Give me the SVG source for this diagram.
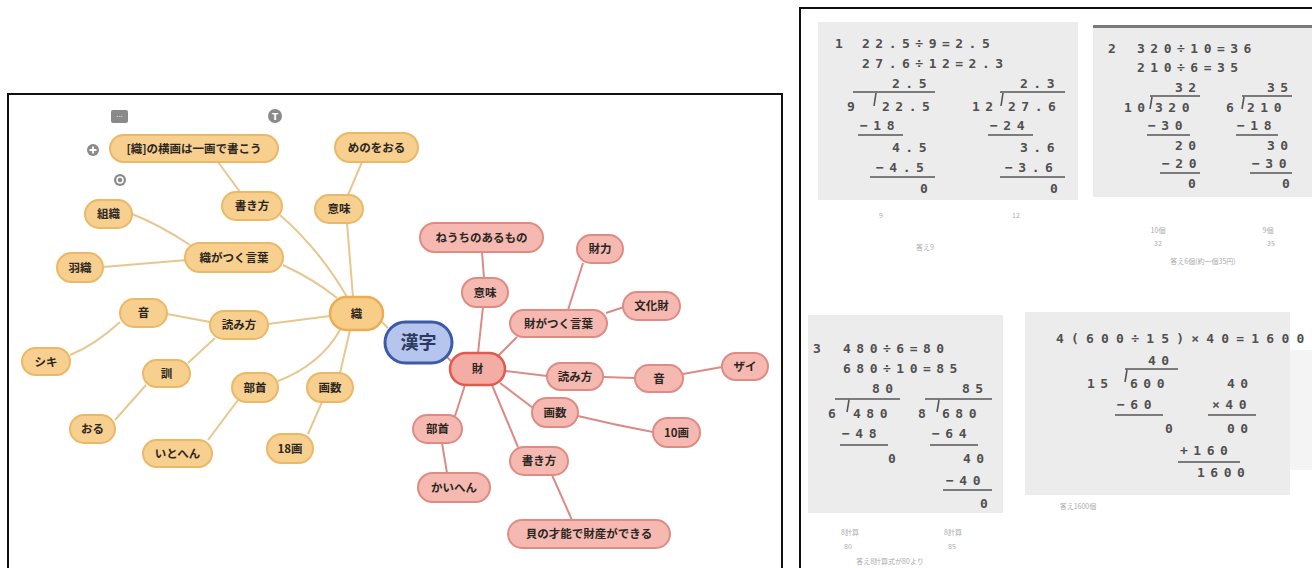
<svg xmlns="http://www.w3.org/2000/svg" width="1312" height="568" viewBox="0 0 1312 568">
<style>
.o rect{fill:#f7cf8e;stroke:#eab867;stroke-width:2}
.r rect{fill:#f5b9b1;stroke:#de8b83;stroke-width:2}
.hubo rect{fill:#f7cd88;stroke:#e9ad55;stroke-width:2.5}
.hubr rect{fill:#f3ada5;stroke:#e05a50;stroke-width:2.5}
.o text,.r text,.hubo text,.hubr text{font-family:"Noto Sans CJK JP","Noto Sans",sans-serif;font-weight:bold;font-size:11.5px;fill:#2c2622;text-anchor:middle}
.co{fill:none;stroke:#e7c78f;stroke-width:2}
.cr{fill:none;stroke:#db8b86;stroke-width:2}
.frame{fill:none;stroke:#111;stroke-width:2}
.panel{fill:#ececec}
.m{font-family:"DejaVu Sans Mono",monospace;font-weight:bold;font-size:13px;fill:#505050;letter-spacing:5.5px}
.ml{stroke:#555;stroke-width:1.6;fill:none}
.f{font-family:"Noto Sans CJK JP",sans-serif;font-size:7px;fill:#aaa;text-anchor:middle}
.ic{fill:#8a8a8a}
</style>
<rect width="1312" height="568" fill="#ffffff"/>

<!-- frames -->
<rect class="frame" x="8" y="94" width="774" height="490"/>
<rect class="frame" x="800" y="8" width="530" height="580"/>

<!-- toolbar icons -->
<g id="icons">
<rect class="ic" x="111" y="110" width="17" height="13" rx="2"/>
<text x="119.5" y="119" font-family="DejaVu Sans" font-size="7" fill="#fff" text-anchor="middle">···</text>
<circle class="ic" cx="275" cy="116" r="7"/>
<text x="275" y="119.5" font-family="DejaVu Sans" font-weight="bold" font-size="9" fill="#fff" text-anchor="middle">T</text>
<circle class="ic" cx="93" cy="150" r="6"/>
<path d="M89.5,150 h7 M93,146.5 v7" stroke="#fff" stroke-width="1.8"/>
<circle class="ic" cx="120" cy="180" r="6"/>
<circle cx="120" cy="180" r="3" fill="none" stroke="#fff" stroke-width="1.5"/>
</g>

<!-- connectors -->
<g id="connectors">
<path class="co" d="M240,192 L218,162"/>
<path class="co" d="M348,195 L362,162"/>
<path class="co" d="M132,214 Q160,225 190,245"/>
<path class="co" d="M103,267 L187,260"/>
<path class="co" d="M280,215 Q320,250 347,297"/>
<path class="co" d="M347,223 L353,297"/>
<path class="co" d="M283,265 Q315,280 337,298"/>
<path class="co" d="M167,314 L210,322"/>
<path class="co" d="M70,355 Q95,345 120,322"/>
<path class="co" d="M268,324 L330,316"/>
<path class="co" d="M188,363 L215,338"/>
<path class="co" d="M115,420 L146,385"/>
<path class="co" d="M278,381 Q320,365 340,330"/>
<path class="co" d="M340,373 L350,330"/>
<path class="co" d="M208,440 L238,400"/>
<path class="co" d="M308,434 L322,402"/>
<path class="co" d="M382,322 L388,328"/>
<path class="cr" d="M482,252 L484,278"/>
<path class="cr" d="M583,263 L568,310"/>
<path class="cr" d="M624,307 L606,313"/>
<path class="cr" d="M483,307 L478,353"/>
<path class="cr" d="M517,337 L498,356"/>
<path class="cr" d="M505,371 L547,376"/>
<path class="cr" d="M603,377 L635,378"/>
<path class="cr" d="M683,374 L722,367"/>
<path class="cr" d="M500,383 L533,408"/>
<path class="cr" d="M578,416 Q615,425 653,432"/>
<path class="cr" d="M465,385 L455,416"/>
<path class="cr" d="M442,443 L447,473"/>
<path class="cr" d="M492,385 L518,447"/>
<path class="cr" d="M552,475 L572,520"/>
<path class="cr" d="M447,357 L452,362"/>
</g>

<!-- orange nodes -->
<g id="n-yokokaku" class="o"><rect x="110" y="135" width="168" height="27" rx="13.5"/><text x="194" y="152.5">[織]の横画は一画で書こう</text></g>
<g id="n-menoworu" class="o"><rect x="335" y="133" width="83" height="29" rx="14.5"/><text x="376.5" y="151.5">めのをおる</text></g>
<g id="n-kakikata-o" class="o"><rect x="222" y="192" width="60" height="28" rx="14"/><text x="252" y="210">書き方</text></g>
<g id="n-imi-o" class="o"><rect x="315" y="195" width="48" height="28" rx="14"/><text x="339" y="213">意味</text></g>
<g id="n-soshiki" class="o"><rect x="85" y="200" width="47" height="28" rx="14"/><text x="108.5" y="218">組織</text></g>
<g id="n-shokugatsuku" class="o"><rect x="185" y="243" width="98" height="29" rx="14.5"/><text x="234" y="261.5">織がつく言葉</text></g>
<g id="n-haori" class="o"><rect x="57" y="253" width="46" height="29" rx="14.5"/><text x="80" y="271.5">羽織</text></g>
<g id="n-on-o" class="o"><rect x="120" y="299" width="47" height="28" rx="14"/><text x="143.5" y="317">音</text></g>
<g id="n-yomikata-o" class="o"><rect x="210" y="311" width="58" height="28" rx="14"/><text x="239" y="329">読み方</text></g>
<g id="n-shiki" class="o"><rect x="22" y="348" width="48" height="27" rx="13.5"/><text x="46" y="365.5">シキ</text></g>
<g id="n-kun" class="o"><rect x="143" y="360" width="47" height="27" rx="13.5"/><text x="166.5" y="377.5">訓</text></g>
<g id="n-bushu-o" class="o"><rect x="232" y="373" width="46" height="29" rx="14.5"/><text x="255" y="391.5">部首</text></g>
<g id="n-kakusu-o" class="o"><rect x="307" y="373" width="46" height="29" rx="14.5"/><text x="330" y="391.5">画数</text></g>
<g id="n-oru" class="o"><rect x="70" y="415" width="45" height="28" rx="14"/><text x="92.5" y="433">おる</text></g>
<g id="n-itohen" class="o"><rect x="143" y="440" width="69" height="27" rx="13.5"/><text x="177.5" y="457.5">いとへん</text></g>
<g id="n-18kaku" class="o"><rect x="267" y="434" width="46" height="29" rx="14.5"/><text x="290" y="452.5">18画</text></g>
<g id="n-shoku" class="hubo"><rect x="330" y="297" width="53" height="33" rx="16.5"/><text x="356.5" y="317.5">織</text></g>

<!-- center -->
<g id="n-kanji"><rect x="385" y="322" width="67" height="41" rx="20.5" fill="#b5c5ee" stroke="#3d5aa8" stroke-width="3"/><text x="418.5" y="349" font-family="Noto Sans CJK JP,sans-serif" font-weight="bold" font-size="18" fill="#2d3a60" text-anchor="middle">漢字</text></g>

<!-- red nodes -->
<g id="n-neuchi" class="r"><rect x="420" y="223" width="123" height="29" rx="14.5"/><text x="481.5" y="241.5">ねうちのあるもの</text></g>
<g id="n-zairyoku" class="r"><rect x="577" y="235" width="46" height="28" rx="14"/><text x="600" y="253">財力</text></g>
<g id="n-imi-r" class="r"><rect x="462" y="278" width="46" height="29" rx="14.5"/><text x="485" y="296.5">意味</text></g>
<g id="n-bunkazai" class="r"><rect x="623" y="292" width="57" height="28" rx="14"/><text x="651.5" y="310">文化財</text></g>
<g id="n-zaigatsuku" class="r"><rect x="510" y="310" width="97" height="27" rx="13.5"/><text x="558.5" y="327.5">財がつく言葉</text></g>
<g id="n-yomikata-r" class="r"><rect x="547" y="363" width="56" height="27" rx="13.5"/><text x="575" y="380.5">読み方</text></g>
<g id="n-on-r" class="r"><rect x="635" y="365" width="48" height="27" rx="13.5"/><text x="659" y="382.5">音</text></g>
<g id="n-zai-yomi" class="r"><rect x="722" y="353" width="46" height="27" rx="13.5"/><text x="745" y="370.5">ザイ</text></g>
<g id="n-kakusu-r" class="r"><rect x="532" y="398" width="46" height="29" rx="14.5"/><text x="555" y="416.5">画数</text></g>
<g id="n-10kaku" class="r"><rect x="653" y="418" width="47" height="29" rx="14.5"/><text x="676.5" y="436.5">10画</text></g>
<g id="n-bushu-r" class="r"><rect x="413" y="415" width="49" height="28" rx="14"/><text x="437.5" y="433">部首</text></g>
<g id="n-kaihen" class="r"><rect x="418" y="473" width="72" height="29" rx="14.5"/><text x="454" y="491.5">かいへん</text></g>
<g id="n-kakikata-r" class="r"><rect x="510" y="447" width="58" height="28" rx="14"/><text x="539" y="465">書き方</text></g>
<g id="n-kai" class="r"><rect x="508" y="520" width="162" height="28" rx="14"/><text x="589" y="538">貝の才能で財産ができる</text></g>
<g id="n-zai" class="hubr"><rect x="450" y="353" width="55" height="32" rx="16"/><text x="477.5" y="373">財</text></g>

<!-- worksheet panels -->
<g id="panel1">
<rect class="panel" x="818" y="22" width="260" height="178"/>
<text class="m" x="835" y="48">1</text>
<text class="m" x="862" y="48">22.5÷9=2.5</text>
<text class="m" x="862" y="68">27.6÷12=2.3</text>
<text class="m" x="892" y="88">2.5</text>
<text class="m" x="1020" y="88">2.3</text>
<path class="ml" d="M853,92 H935 M876,93 L874,106 M1000,92 H1065 M1003,93 L1001,106"/>
<text class="m" x="847" y="111">9</text>
<text class="m" x="882" y="111">22.5</text>
<text class="m" x="972" y="111">12</text>
<text class="m" x="1008" y="111">27.6</text>
<text class="m" x="860" y="130">−18</text>
<text class="m" x="990" y="130">−24</text>
<path class="ml" d="M858,135 H903 M988,135 H1033"/>
<text class="m" x="892" y="152">4.5</text>
<text class="m" x="1020" y="152">3.6</text>
<text class="m" x="876" y="172">−4.5</text>
<text class="m" x="1005" y="172">−3.6</text>
<path class="ml" d="M870,177 H935 M1000,177 H1065"/>
<text class="m" x="920" y="193">0</text>
<text class="m" x="1050" y="193">0</text>
<text class="f" x="881" y="218">9</text>
<text class="f" x="1016" y="218">12</text>
<text class="f" x="925" y="250">答え9</text>
</g>

<g id="panel2">
<rect class="panel" x="1093" y="25" width="219" height="172"/>
<rect x="1093" y="25" width="219" height="3" fill="#7a7a7a"/>
<text class="m" x="1108" y="53">2</text>
<text class="m" x="1137" y="53">320÷10=36</text>
<text class="m" x="1137" y="72">210÷6=35</text>
<text class="m" x="1175" y="92">32</text>
<text class="m" x="1267" y="92">35</text>
<path class="ml" d="M1150,96 H1200 M1152,97 L1150,109 M1242,96 H1292 M1244,97 L1242,109"/>
<text class="m" x="1124" y="112">10</text>
<text class="m" x="1155" y="112">320</text>
<text class="m" x="1226" y="112">6</text>
<text class="m" x="1247" y="112">210</text>
<text class="m" x="1148" y="130">−30</text>
<text class="m" x="1237" y="130">−18</text>
<path class="ml" d="M1147,135 H1190 M1236,135 H1278"/>
<text class="m" x="1175" y="150">20</text>
<text class="m" x="1267" y="150">30</text>
<text class="m" x="1162" y="168">−20</text>
<text class="m" x="1252" y="168">−30</text>
<path class="ml" d="M1160,173 H1200 M1250,173 H1292"/>
<text class="m" x="1188" y="188">0</text>
<text class="m" x="1282" y="188">0</text>
<text class="f" x="1158" y="233">10個</text>
<text class="f" x="1268" y="233">9個</text>
<text class="f" x="1158" y="246">32</text>
<text class="f" x="1271" y="246">35</text>
<text class="f" x="1203" y="264">答え6個(約一個35円)</text>
</g>

<g id="panel3">
<rect class="panel" x="808" y="315" width="195" height="198"/>
<text class="m" x="813" y="353">3</text>
<text class="m" x="843" y="353">480÷6=80</text>
<text class="m" x="843" y="373">680÷10=85</text>
<text class="m" x="872" y="393">80</text>
<text class="m" x="962" y="393">85</text>
<path class="ml" d="M835,399 H900 M849,400 L847,412 M925,399 H992 M939,400 L937,412"/>
<text class="m" x="828" y="418">6</text>
<text class="m" x="853" y="418">480</text>
<text class="m" x="918" y="418">8</text>
<text class="m" x="942" y="418">680</text>
<text class="m" x="842" y="438">−48</text>
<text class="m" x="932" y="438">−64</text>
<path class="ml" d="M840,445 H888 M930,445 H978"/>
<text class="m" x="888" y="463">0</text>
<text class="m" x="963" y="463">40</text>
<text class="m" x="946" y="485">−40</text>
<path class="ml" d="M943,490 H992"/>
<text class="m" x="980" y="508">0</text>
<text class="f" x="850" y="535">8計算</text>
<text class="f" x="953" y="535">8計算</text>
<text class="f" x="848" y="549">80</text>
<text class="f" x="952" y="549">85</text>
<text class="f" x="890" y="564">答え8計算式が80より</text>
</g>

<g id="panel4">
<rect class="panel" x="1025" y="312" width="265" height="183"/>
<rect x="1290" y="350" width="22" height="120" fill="#f4f4f4"/>
<text class="m" x="1056" y="343" style="letter-spacing:7.2px">4(600÷15)×40=1600</text>
<text class="m" x="1148" y="365">40</text>
<path class="ml" d="M1125,369 H1178 M1127,370 L1125,382"/>
<text class="m" x="1087" y="388">15</text>
<text class="m" x="1130" y="388">600</text>
<text class="m" x="1227" y="388">40</text>
<text class="m" x="1117" y="409">−60</text>
<text class="m" x="1212" y="409">×40</text>
<path class="ml" d="M1115,415 H1163 M1208,415 H1256"/>
<text class="m" x="1165" y="433">0</text>
<text class="m" x="1227" y="433">00</text>
<text class="m" x="1180" y="455">+160</text>
<path class="ml" d="M1178,462 H1240"/>
<text class="m" x="1197" y="477">1600</text>
<text class="f" x="1078" y="509">答え1600個</text>
</g>
</svg>
